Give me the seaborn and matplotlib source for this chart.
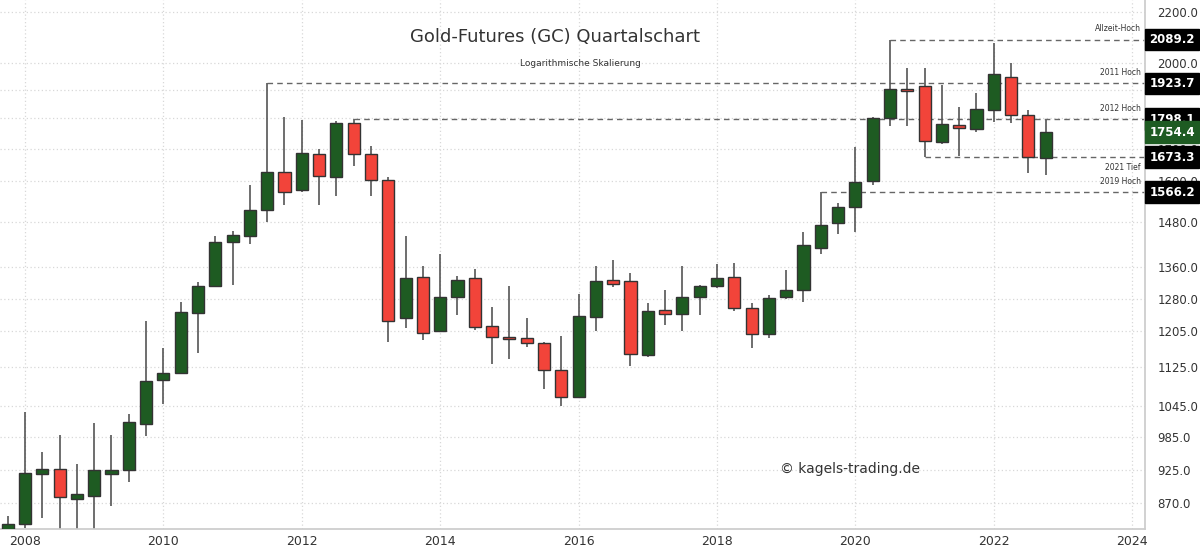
import numpy as np
import pandas as pd
import seaborn as sns
import matplotlib
matplotlib.use("Agg")
import matplotlib.pyplot as plt
from matplotlib.ticker import NullLocator

quarters = pd.period_range("2007Q4", "2022Q4", freq="Q").astype(str).tolist()
opens = [790, 836, 919, 927, 877, 882, 919, 925, 1010, 1098, 1112, 1246, 1310, 1424, 1440, 1513,
         1628, 1573, 1683, 1612, 1784, 1684, 1603, 1234, 1334, 1205, 1285, 1331, 1216, 1190, 1188,
         1177, 1118, 1062, 1236, 1325, 1323, 1150, 1253, 1244, 1285, 1310, 1334, 1257, 1198, 1285,
         1300, 1410, 1477, 1521, 1600, 1803, 1900, 1914, 1720, 1777, 1764, 1830, 1945, 1811, 1670]
highs = [848, 1033, 957, 990, 937, 1012, 990, 1030, 1226, 1165, 1272, 1320, 1440, 1456, 1587, 1923.7,
         1805, 1796, 1700, 1790, 1798.1, 1710, 1612, 1440, 1362, 1394, 1336, 1353, 1259, 1310, 1234,
         1180, 1192, 1291, 1362, 1377, 1343, 1270, 1302, 1362, 1313, 1367, 1369, 1270, 1288, 1352,
         1451, 1566.2, 1533, 1705, 1806, 2089.2, 1982, 1980, 1916, 1840, 1889, 2078, 1998, 1830, 1795]
lows = [780, 830, 846, 760, 680, 800, 865, 905, 988, 1048, 1110, 1156, 1308, 1313, 1420, 1480,
        1528, 1565, 1528, 1555, 1646, 1555, 1180, 1210, 1183, 1203, 1242, 1207, 1131, 1142, 1168,
        1080, 1045, 1061, 1205, 1309, 1127, 1146, 1217, 1205, 1240, 1307, 1250, 1167, 1189, 1280,
        1273, 1394, 1447, 1451, 1587, 1775, 1775, 1673.3, 1715, 1677, 1753, 1787, 1785, 1622, 1618]
closes = [836, 921, 927, 880, 885, 925, 925, 1013, 1095, 1112, 1248, 1312, 1426, 1445, 1515, 1628,
          1567, 1687, 1614, 1784, 1684, 1603, 1228, 1331, 1200, 1285, 1326, 1214, 1190, 1186, 1177,
          1118, 1062, 1238, 1323, 1317, 1152, 1251, 1244, 1285, 1312, 1331, 1257, 1198, 1282, 1300,
          1418, 1472, 1523, 1597, 1803, 1903, 1897, 1725, 1780, 1767, 1833, 1958, 1811, 1673.3, 1754.4]

level_values = [2089.2, 1923.7, 1798.1, 1673.3, 1566.2]
level_names = ["Allzeit-Hoch", "2011 Hoch", "2012 Hoch", "2021 Tief", "2019 Hoch"]
level_start = ["2020Q3", "2011Q3", "2012Q4", "2021Q1", "2019Q3"]
y_ticks = [870, 925, 985, 1045, 1125, 1205, 1280, 1360, 1480, 1600, 1700, 1800, 1900, 2000, 2200]
y_hidden = [1800, 1900]
x_ticks = [2008, 2010, 2012, 2014, 2016, 2018, 2020, 2022, 2024]

df = pd.DataFrame({"q": quarters, "o": opens, "h": highs, "l": lows, "c": closes})
df["x"] = [int(s[:4]) + (int(s[-1]) - 1) / 4 for s in quarters]
df["up"] = df["c"] >= df["o"]

sns.set_theme(style="white")
fig = plt.figure(figsize=(12, 5.53), dpi=100)
ax = fig.add_axes([0.0, 24 / 553, 1145 / 1200, 529 / 553])

green, red = "#1e5b22", "#f2443a"
for _, r in df.iterrows():
    ax.vlines(r.x, r.l, r.h, color="#555555", lw=1.2, zorder=2)
    lo, hi = min(r.o, r.c), max(r.o, r.c)
    if hi / lo < 1.004:
        hi = lo * 1.004
    ax.bar(r.x, hi - lo, bottom=lo, width=0.175, color=green if r.up else red,
           edgecolor="#333333", linewidth=1.0, zorder=3)

ax.set_yscale("log")
ax.set_ylim(828, 2252)
ax.set_xlim(2007.639, 2024.185)
ax.set_yticks(y_ticks)
ax.yaxis.set_minor_locator(NullLocator())
ax.set_yticklabels(["" if v in y_hidden else f"{v:.1f}" for v in y_ticks])
ax.yaxis.tick_right()
ax.tick_params(axis="y", labelsize=8.5, colors="#333333", length=0, pad=9)
ax.set_xticks(x_ticks)
ax.set_xticklabels([str(v) for v in x_ticks])
ax.tick_params(axis="x", labelsize=9, colors="#333333", length=0, pad=4)
ax.grid(True, color="#d8d8d8", linestyle=(0, (1, 2)), lw=0.9)
for s in ["top", "left"]:
    ax.spines[s].set_visible(False)
ax.spines["right"].set_color("#cccccc")
ax.spines["bottom"].set_color("#cccccc")

xmax = 2024.185
for v, n, st in zip(level_values, level_names, level_start):
    xs = int(st[:4]) + (int(st[-1]) - 1) / 4
    ax.vlines(xs, df.loc[df.q == st, "h"].values[0] if n != "2021 Tief" else v, v,
              color="#555555", lw=1, zorder=1)
    ax.plot([xs, xmax], [v, v], color="#666666", lw=1, ls=(0, (4, 3)), zorder=1)
    va_off = 0.988 if n == "2021 Tief" else 1.012
    ax.text(2024.12, v * va_off, n, fontsize=5.5, color="#333333", ha="right",
            va="top" if n == "2021 Tief" else "bottom")
    ax.text(1.004, v, f"{v:.1f}", transform=ax.get_yaxis_transform(), fontsize=8.5,
            fontweight="bold", color="white", va="center", ha="left", clip_on=False, zorder=10,
            bbox=dict(boxstyle="square,pad=0.35", fc="black", ec="black"))
ax.text(1.004, closes[-1], f"{closes[-1]:.1f}", transform=ax.get_yaxis_transform(), fontsize=8.5,
        fontweight="bold", color="white", va="center", ha="left", clip_on=False, zorder=10,
        bbox=dict(boxstyle="square,pad=0.35", fc="#1e5b22", ec="#1e5b22"))

fig.text(555 / 1200, 1 - 37 / 553, "Gold-Futures (GC) Quartalschart", fontsize=13,
         color="#333333", ha="center", va="center")
fig.text(580 / 1200, 1 - 64 / 553, "Logarithmische Skalierung", fontsize=6.5,
         color="#333333", ha="center", va="center")
fig.text(850 / 1200, 1 - 469 / 553, "© kagels-trading.de", fontsize=10,
         color="#333333", ha="center", va="center")

fig.savefig("out.png", dpi=100, facecolor="white")
